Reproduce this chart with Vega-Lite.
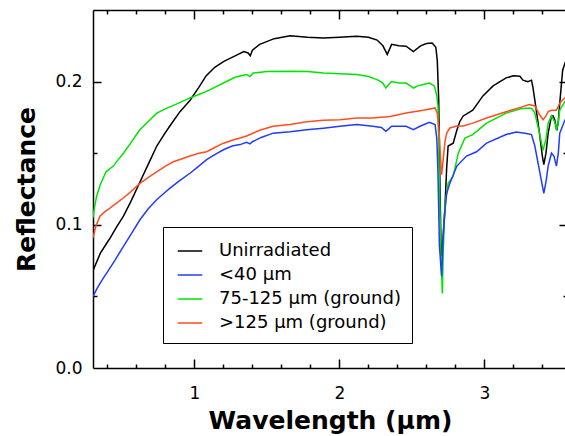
{
  "$schema": "https://vega.github.io/schema/vega-lite/v6.json",
  "width": 474,
  "height": 358,
  "autosize": {"type": "none"},
  "padding": {"left": 93, "top": 10, "right": 0, "bottom": 68},
  "background": "white",
  "config": {
    "view": {"stroke": null},
    "font": "DejaVu Sans",
    "axis": {
      "grid": false,
      "domainColor": "#000000",
      "domainWidth": 1.5,
      "tickColor": "#000000",
      "tickWidth": 1.5,
      "labelColor": "#000000",
      "labelFont": "DejaVu Sans",
      "labelFontSize": 17,
      "titleFont": "DejaVu Sans",
      "titleColor": "#000000",
      "titleFontSize": 25,
      "titleFontWeight": "bold"
    },
    "legend": {
      "labelFont": "DejaVu Sans",
      "labelFontSize": 18,
      "labelColor": "#000000",
      "labelLimit": 400
    }
  },
  "data": {
    "values": [
      {"s": "Unirradiated", "wl": 0.30, "r": 0.068},
      {"s": "Unirradiated", "wl": 0.35, "r": 0.080},
      {"s": "Unirradiated", "wl": 0.40, "r": 0.088},
      {"s": "Unirradiated", "wl": 0.42, "r": 0.091},
      {"s": "Unirradiated", "wl": 0.46, "r": 0.098},
      {"s": "Unirradiated", "wl": 0.51, "r": 0.106},
      {"s": "Unirradiated", "wl": 0.56, "r": 0.116},
      {"s": "Unirradiated", "wl": 0.62, "r": 0.129},
      {"s": "Unirradiated", "wl": 0.68, "r": 0.142},
      {"s": "Unirradiated", "wl": 0.74, "r": 0.155},
      {"s": "Unirradiated", "wl": 0.79, "r": 0.163},
      {"s": "Unirradiated", "wl": 0.83, "r": 0.169},
      {"s": "Unirradiated", "wl": 0.90, "r": 0.179},
      {"s": "Unirradiated", "wl": 0.97, "r": 0.187},
      {"s": "Unirradiated", "wl": 1.03, "r": 0.196},
      {"s": "Unirradiated", "wl": 1.08, "r": 0.204},
      {"s": "Unirradiated", "wl": 1.14, "r": 0.210},
      {"s": "Unirradiated", "wl": 1.20, "r": 0.214},
      {"s": "Unirradiated", "wl": 1.28, "r": 0.218},
      {"s": "Unirradiated", "wl": 1.34, "r": 0.221},
      {"s": "Unirradiated", "wl": 1.37, "r": 0.2200},
      {"s": "Unirradiated", "wl": 1.385, "r": 0.218},
      {"s": "Unirradiated", "wl": 1.40, "r": 0.222},
      {"s": "Unirradiated", "wl": 1.45, "r": 0.226},
      {"s": "Unirradiated", "wl": 1.55, "r": 0.230},
      {"s": "Unirradiated", "wl": 1.66, "r": 0.232},
      {"s": "Unirradiated", "wl": 1.78, "r": 0.231},
      {"s": "Unirradiated", "wl": 1.89, "r": 0.2305},
      {"s": "Unirradiated", "wl": 2.00, "r": 0.231},
      {"s": "Unirradiated", "wl": 2.12, "r": 0.2317},
      {"s": "Unirradiated", "wl": 2.20, "r": 0.231},
      {"s": "Unirradiated", "wl": 2.26, "r": 0.229},
      {"s": "Unirradiated", "wl": 2.30, "r": 0.225},
      {"s": "Unirradiated", "wl": 2.33, "r": 0.219},
      {"s": "Unirradiated", "wl": 2.36, "r": 0.226},
      {"s": "Unirradiated", "wl": 2.41, "r": 0.225},
      {"s": "Unirradiated", "wl": 2.46, "r": 0.2247},
      {"s": "Unirradiated", "wl": 2.51, "r": 0.221},
      {"s": "Unirradiated", "wl": 2.56, "r": 0.225},
      {"s": "Unirradiated", "wl": 2.60, "r": 0.2266},
      {"s": "Unirradiated", "wl": 2.64, "r": 0.227},
      {"s": "Unirradiated", "wl": 2.665, "r": 0.224},
      {"s": "Unirradiated", "wl": 2.675, "r": 0.215},
      {"s": "Unirradiated", "wl": 2.685, "r": 0.187},
      {"s": "Unirradiated", "wl": 2.69, "r": 0.150},
      {"s": "Unirradiated", "wl": 2.695, "r": 0.120},
      {"s": "Unirradiated", "wl": 2.70, "r": 0.090},
      {"s": "Unirradiated", "wl": 2.705, "r": 0.078},
      {"s": "Unirradiated", "wl": 2.712, "r": 0.085},
      {"s": "Unirradiated", "wl": 2.72, "r": 0.100},
      {"s": "Unirradiated", "wl": 2.727, "r": 0.110},
      {"s": "Unirradiated", "wl": 2.74, "r": 0.140},
      {"s": "Unirradiated", "wl": 2.75, "r": 0.155},
      {"s": "Unirradiated", "wl": 2.785, "r": 0.157},
      {"s": "Unirradiated", "wl": 2.81, "r": 0.166},
      {"s": "Unirradiated", "wl": 2.83, "r": 0.172},
      {"s": "Unirradiated", "wl": 2.854, "r": 0.176},
      {"s": "Unirradiated", "wl": 2.92, "r": 0.180},
      {"s": "Unirradiated", "wl": 2.99, "r": 0.190},
      {"s": "Unirradiated", "wl": 3.06, "r": 0.197},
      {"s": "Unirradiated", "wl": 3.15, "r": 0.2026},
      {"s": "Unirradiated", "wl": 3.20, "r": 0.204},
      {"s": "Unirradiated", "wl": 3.245, "r": 0.2037},
      {"s": "Unirradiated", "wl": 3.266, "r": 0.201},
      {"s": "Unirradiated", "wl": 3.30, "r": 0.200},
      {"s": "Unirradiated", "wl": 3.325, "r": 0.201},
      {"s": "Unirradiated", "wl": 3.335, "r": 0.196},
      {"s": "Unirradiated", "wl": 3.348, "r": 0.187},
      {"s": "Unirradiated", "wl": 3.365, "r": 0.175},
      {"s": "Unirradiated", "wl": 3.38, "r": 0.164},
      {"s": "Unirradiated", "wl": 3.40, "r": 0.148},
      {"s": "Unirradiated", "wl": 3.41, "r": 0.142},
      {"s": "Unirradiated", "wl": 3.425, "r": 0.150},
      {"s": "Unirradiated", "wl": 3.44, "r": 0.164},
      {"s": "Unirradiated", "wl": 3.463, "r": 0.176},
      {"s": "Unirradiated", "wl": 3.475, "r": 0.176},
      {"s": "Unirradiated", "wl": 3.486, "r": 0.173},
      {"s": "Unirradiated", "wl": 3.50, "r": 0.166},
      {"s": "Unirradiated", "wl": 3.51, "r": 0.172},
      {"s": "Unirradiated", "wl": 3.52, "r": 0.185},
      {"s": "Unirradiated", "wl": 3.54, "r": 0.208},
      {"s": "Unirradiated", "wl": 3.56, "r": 0.214},
      {"s": "Unirradiated", "wl": 3.57, "r": 0.216},

      {"s": "75-125 μm (ground)", "wl": 0.30, "r": 0.105},
      {"s": "75-125 μm (ground)", "wl": 0.31, "r": 0.112},
      {"s": "75-125 μm (ground)", "wl": 0.325, "r": 0.120},
      {"s": "75-125 μm (ground)", "wl": 0.35, "r": 0.128},
      {"s": "75-125 μm (ground)", "wl": 0.39, "r": 0.137},
      {"s": "75-125 μm (ground)", "wl": 0.44, "r": 0.141},
      {"s": "75-125 μm (ground)", "wl": 0.47, "r": 0.145},
      {"s": "75-125 μm (ground)", "wl": 0.51, "r": 0.150},
      {"s": "75-125 μm (ground)", "wl": 0.56, "r": 0.157},
      {"s": "75-125 μm (ground)", "wl": 0.62, "r": 0.166},
      {"s": "75-125 μm (ground)", "wl": 0.68, "r": 0.172},
      {"s": "75-125 μm (ground)", "wl": 0.74, "r": 0.178},
      {"s": "75-125 μm (ground)", "wl": 0.81, "r": 0.1815},
      {"s": "75-125 μm (ground)", "wl": 0.89, "r": 0.185},
      {"s": "75-125 μm (ground)", "wl": 0.97, "r": 0.1886},
      {"s": "75-125 μm (ground)", "wl": 1.03, "r": 0.191},
      {"s": "75-125 μm (ground)", "wl": 1.08, "r": 0.193},
      {"s": "75-125 μm (ground)", "wl": 1.14, "r": 0.196},
      {"s": "75-125 μm (ground)", "wl": 1.20, "r": 0.199},
      {"s": "75-125 μm (ground)", "wl": 1.28, "r": 0.203},
      {"s": "75-125 μm (ground)", "wl": 1.36, "r": 0.205},
      {"s": "75-125 μm (ground)", "wl": 1.383, "r": 0.2035},
      {"s": "75-125 μm (ground)", "wl": 1.405, "r": 0.206},
      {"s": "75-125 μm (ground)", "wl": 1.50, "r": 0.207},
      {"s": "75-125 μm (ground)", "wl": 1.66, "r": 0.2073},
      {"s": "75-125 μm (ground)", "wl": 1.78, "r": 0.207},
      {"s": "75-125 μm (ground)", "wl": 1.89, "r": 0.206},
      {"s": "75-125 μm (ground)", "wl": 2.00, "r": 0.2055},
      {"s": "75-125 μm (ground)", "wl": 2.12, "r": 0.205},
      {"s": "75-125 μm (ground)", "wl": 2.20, "r": 0.2035},
      {"s": "75-125 μm (ground)", "wl": 2.26, "r": 0.2014},
      {"s": "75-125 μm (ground)", "wl": 2.30, "r": 0.199},
      {"s": "75-125 μm (ground)", "wl": 2.32, "r": 0.1955},
      {"s": "75-125 μm (ground)", "wl": 2.34, "r": 0.198},
      {"s": "75-125 μm (ground)", "wl": 2.36, "r": 0.200},
      {"s": "75-125 μm (ground)", "wl": 2.41, "r": 0.199},
      {"s": "75-125 μm (ground)", "wl": 2.46, "r": 0.199},
      {"s": "75-125 μm (ground)", "wl": 2.49, "r": 0.197},
      {"s": "75-125 μm (ground)", "wl": 2.51, "r": 0.1955},
      {"s": "75-125 μm (ground)", "wl": 2.54, "r": 0.197},
      {"s": "75-125 μm (ground)", "wl": 2.58, "r": 0.198},
      {"s": "75-125 μm (ground)", "wl": 2.62, "r": 0.199},
      {"s": "75-125 μm (ground)", "wl": 2.655, "r": 0.197},
      {"s": "75-125 μm (ground)", "wl": 2.672, "r": 0.190},
      {"s": "75-125 μm (ground)", "wl": 2.68, "r": 0.183},
      {"s": "75-125 μm (ground)", "wl": 2.69, "r": 0.127},
      {"s": "75-125 μm (ground)", "wl": 2.70, "r": 0.080},
      {"s": "75-125 μm (ground)", "wl": 2.71, "r": 0.052},
      {"s": "75-125 μm (ground)", "wl": 2.716, "r": 0.080},
      {"s": "75-125 μm (ground)", "wl": 2.727, "r": 0.113},
      {"s": "75-125 μm (ground)", "wl": 2.75, "r": 0.129},
      {"s": "75-125 μm (ground)", "wl": 2.785, "r": 0.134},
      {"s": "75-125 μm (ground)", "wl": 2.82, "r": 0.150},
      {"s": "75-125 μm (ground)", "wl": 2.866, "r": 0.1606},
      {"s": "75-125 μm (ground)", "wl": 2.92, "r": 0.163},
      {"s": "75-125 μm (ground)", "wl": 3.015, "r": 0.171},
      {"s": "75-125 μm (ground)", "wl": 3.15, "r": 0.178},
      {"s": "75-125 μm (ground)", "wl": 3.25, "r": 0.181},
      {"s": "75-125 μm (ground)", "wl": 3.31, "r": 0.1816},
      {"s": "75-125 μm (ground)", "wl": 3.33, "r": 0.181},
      {"s": "75-125 μm (ground)", "wl": 3.348, "r": 0.178},
      {"s": "75-125 μm (ground)", "wl": 3.38, "r": 0.164},
      {"s": "75-125 μm (ground)", "wl": 3.405, "r": 0.152},
      {"s": "75-125 μm (ground)", "wl": 3.425, "r": 0.160},
      {"s": "75-125 μm (ground)", "wl": 3.44, "r": 0.171},
      {"s": "75-125 μm (ground)", "wl": 3.463, "r": 0.176},
      {"s": "75-125 μm (ground)", "wl": 3.485, "r": 0.172},
      {"s": "75-125 μm (ground)", "wl": 3.497, "r": 0.166},
      {"s": "75-125 μm (ground)", "wl": 3.51, "r": 0.172},
      {"s": "75-125 μm (ground)", "wl": 3.52, "r": 0.180},
      {"s": "75-125 μm (ground)", "wl": 3.555, "r": 0.186},
      {"s": "75-125 μm (ground)", "wl": 3.57, "r": 0.188},

      {"s": ">125 μm (ground)", "wl": 0.30, "r": 0.091},
      {"s": ">125 μm (ground)", "wl": 0.32, "r": 0.099},
      {"s": ">125 μm (ground)", "wl": 0.348, "r": 0.106},
      {"s": ">125 μm (ground)", "wl": 0.38, "r": 0.109},
      {"s": ">125 μm (ground)", "wl": 0.417, "r": 0.1117},
      {"s": ">125 μm (ground)", "wl": 0.46, "r": 0.115},
      {"s": ">125 μm (ground)", "wl": 0.509, "r": 0.1187},
      {"s": ">125 μm (ground)", "wl": 0.56, "r": 0.123},
      {"s": ">125 μm (ground)", "wl": 0.624, "r": 0.129},
      {"s": ">125 μm (ground)", "wl": 0.68, "r": 0.133},
      {"s": ">125 μm (ground)", "wl": 0.739, "r": 0.137},
      {"s": ">125 μm (ground)", "wl": 0.80, "r": 0.141},
      {"s": ">125 μm (ground)", "wl": 0.854, "r": 0.144},
      {"s": ">125 μm (ground)", "wl": 0.91, "r": 0.146},
      {"s": ">125 μm (ground)", "wl": 0.969, "r": 0.148},
      {"s": ">125 μm (ground)", "wl": 1.03, "r": 0.150},
      {"s": ">125 μm (ground)", "wl": 1.084, "r": 0.151},
      {"s": ">125 μm (ground)", "wl": 1.14, "r": 0.154},
      {"s": ">125 μm (ground)", "wl": 1.20, "r": 0.157},
      {"s": ">125 μm (ground)", "wl": 1.26, "r": 0.159},
      {"s": ">125 μm (ground)", "wl": 1.314, "r": 0.1606},
      {"s": ">125 μm (ground)", "wl": 1.36, "r": 0.162},
      {"s": ">125 μm (ground)", "wl": 1.45, "r": 0.166},
      {"s": ">125 μm (ground)", "wl": 1.543, "r": 0.1688},
      {"s": ">125 μm (ground)", "wl": 1.66, "r": 0.170},
      {"s": ">125 μm (ground)", "wl": 1.774, "r": 0.172},
      {"s": ">125 μm (ground)", "wl": 1.89, "r": 0.173},
      {"s": ">125 μm (ground)", "wl": 2.003, "r": 0.1734},
      {"s": ">125 μm (ground)", "wl": 2.12, "r": 0.1746},
      {"s": ">125 μm (ground)", "wl": 2.23, "r": 0.1746},
      {"s": ">125 μm (ground)", "wl": 2.35, "r": 0.1757},
      {"s": ">125 μm (ground)", "wl": 2.46, "r": 0.178},
      {"s": ">125 μm (ground)", "wl": 2.578, "r": 0.180},
      {"s": ">125 μm (ground)", "wl": 2.66, "r": 0.1816},
      {"s": ">125 μm (ground)", "wl": 2.675, "r": 0.178},
      {"s": ">125 μm (ground)", "wl": 2.688, "r": 0.165},
      {"s": ">125 μm (ground)", "wl": 2.698, "r": 0.1455},
      {"s": ">125 μm (ground)", "wl": 2.705, "r": 0.135},
      {"s": ">125 μm (ground)", "wl": 2.716, "r": 0.1455},
      {"s": ">125 μm (ground)", "wl": 2.728, "r": 0.158},
      {"s": ">125 μm (ground)", "wl": 2.74, "r": 0.164},
      {"s": ">125 μm (ground)", "wl": 2.762, "r": 0.1676},
      {"s": ">125 μm (ground)", "wl": 2.81, "r": 0.169},
      {"s": ">125 μm (ground)", "wl": 2.854, "r": 0.169},
      {"s": ">125 μm (ground)", "wl": 2.92, "r": 0.171},
      {"s": ">125 μm (ground)", "wl": 3.015, "r": 0.1746},
      {"s": ">125 μm (ground)", "wl": 3.15, "r": 0.179},
      {"s": ">125 μm (ground)", "wl": 3.25, "r": 0.182},
      {"s": ">125 μm (ground)", "wl": 3.31, "r": 0.184},
      {"s": ">125 μm (ground)", "wl": 3.348, "r": 0.183},
      {"s": ">125 μm (ground)", "wl": 3.365, "r": 0.180},
      {"s": ">125 μm (ground)", "wl": 3.38, "r": 0.177},
      {"s": ">125 μm (ground)", "wl": 3.405, "r": 0.1734},
      {"s": ">125 μm (ground)", "wl": 3.425, "r": 0.176},
      {"s": ">125 μm (ground)", "wl": 3.44, "r": 0.179},
      {"s": ">125 μm (ground)", "wl": 3.463, "r": 0.180},
      {"s": ">125 μm (ground)", "wl": 3.497, "r": 0.180},
      {"s": ">125 μm (ground)", "wl": 3.52, "r": 0.185},
      {"s": ">125 μm (ground)", "wl": 3.555, "r": 0.1886},
      {"s": ">125 μm (ground)", "wl": 3.57, "r": 0.189},

      {"s": "<40 μm", "wl": 0.30, "r": 0.050},
      {"s": "<40 μm", "wl": 0.33, "r": 0.056},
      {"s": "<40 μm", "wl": 0.36, "r": 0.061},
      {"s": "<40 μm", "wl": 0.394, "r": 0.0662},
      {"s": "<40 μm", "wl": 0.45, "r": 0.075},
      {"s": "<40 μm", "wl": 0.509, "r": 0.0848},
      {"s": "<40 μm", "wl": 0.566, "r": 0.094},
      {"s": "<40 μm", "wl": 0.624, "r": 0.1035},
      {"s": "<40 μm", "wl": 0.68, "r": 0.111},
      {"s": "<40 μm", "wl": 0.739, "r": 0.1175},
      {"s": "<40 μm", "wl": 0.79, "r": 0.122},
      {"s": "<40 μm", "wl": 0.831, "r": 0.1256},
      {"s": "<40 μm", "wl": 0.90, "r": 0.131},
      {"s": "<40 μm", "wl": 0.969, "r": 0.136},
      {"s": "<40 μm", "wl": 1.03, "r": 0.141},
      {"s": "<40 μm", "wl": 1.084, "r": 0.1455},
      {"s": "<40 μm", "wl": 1.14, "r": 0.149},
      {"s": "<40 μm", "wl": 1.20, "r": 0.1524},
      {"s": "<40 μm", "wl": 1.26, "r": 0.155},
      {"s": "<40 μm", "wl": 1.314, "r": 0.156},
      {"s": "<40 μm", "wl": 1.36, "r": 0.1576},
      {"s": "<40 μm", "wl": 1.383, "r": 0.1565},
      {"s": "<40 μm", "wl": 1.40, "r": 0.158},
      {"s": "<40 μm", "wl": 1.46, "r": 0.161},
      {"s": "<40 μm", "wl": 1.543, "r": 0.164},
      {"s": "<40 μm", "wl": 1.66, "r": 0.165},
      {"s": "<40 μm", "wl": 1.774, "r": 0.1664},
      {"s": "<40 μm", "wl": 1.89, "r": 0.1675},
      {"s": "<40 μm", "wl": 2.003, "r": 0.1688},
      {"s": "<40 μm", "wl": 2.12, "r": 0.170},
      {"s": "<40 μm", "wl": 2.23, "r": 0.1688},
      {"s": "<40 μm", "wl": 2.29, "r": 0.168},
      {"s": "<40 μm", "wl": 2.32, "r": 0.1653},
      {"s": "<40 μm", "wl": 2.34, "r": 0.167},
      {"s": "<40 μm", "wl": 2.36, "r": 0.1688},
      {"s": "<40 μm", "wl": 2.46, "r": 0.1688},
      {"s": "<40 μm", "wl": 2.51, "r": 0.1665},
      {"s": "<40 μm", "wl": 2.56, "r": 0.169},
      {"s": "<40 μm", "wl": 2.62, "r": 0.1715},
      {"s": "<40 μm", "wl": 2.66, "r": 0.170},
      {"s": "<40 μm", "wl": 2.672, "r": 0.160},
      {"s": "<40 μm", "wl": 2.68, "r": 0.136},
      {"s": "<40 μm", "wl": 2.69, "r": 0.085},
      {"s": "<40 μm", "wl": 2.705, "r": 0.064},
      {"s": "<40 μm", "wl": 2.716, "r": 0.092},
      {"s": "<40 μm", "wl": 2.728, "r": 0.110},
      {"s": "<40 μm", "wl": 2.74, "r": 0.122},
      {"s": "<40 μm", "wl": 2.762, "r": 0.129},
      {"s": "<40 μm", "wl": 2.81, "r": 0.141},
      {"s": "<40 μm", "wl": 2.877, "r": 0.148},
      {"s": "<40 μm", "wl": 2.946, "r": 0.151},
      {"s": "<40 μm", "wl": 3.015, "r": 0.157},
      {"s": "<40 μm", "wl": 3.15, "r": 0.163},
      {"s": "<40 μm", "wl": 3.22, "r": 0.1648},
      {"s": "<40 μm", "wl": 3.28, "r": 0.164},
      {"s": "<40 μm", "wl": 3.325, "r": 0.163},
      {"s": "<40 μm", "wl": 3.348, "r": 0.155},
      {"s": "<40 μm", "wl": 3.38, "r": 0.138},
      {"s": "<40 μm", "wl": 3.41, "r": 0.122},
      {"s": "<40 μm", "wl": 3.425, "r": 0.130},
      {"s": "<40 μm", "wl": 3.44, "r": 0.141},
      {"s": "<40 μm", "wl": 3.463, "r": 0.150},
      {"s": "<40 μm", "wl": 3.48, "r": 0.148},
      {"s": "<40 μm", "wl": 3.497, "r": 0.141},
      {"s": "<40 μm", "wl": 3.51, "r": 0.150},
      {"s": "<40 μm", "wl": 3.52, "r": 0.164},
      {"s": "<40 μm", "wl": 3.555, "r": 0.173},
      {"s": "<40 μm", "wl": 3.57, "r": 0.175}
    ]
  },
  "layer": [
    {
      "mark": {"type": "line", "strokeWidth": 1.5, "clip": true},
      "encoding": {
        "x": {
          "field": "wl", "type": "quantitative",
          "scale": {"domain": [0.3, 3.57], "nice": false, "zero": false},
          "axis": {
            "orient": "bottom",
            "values": [1, 2, 3],
            "format": "d",
            "ticks": false,
            "tickSize": 0,
            "labelPadding": 17,
            "title": "Wavelength (μm)",
            "titlePadding": 7
          }
        },
        "y": {
          "field": "r", "type": "quantitative",
          "scale": {"domain": [0, 0.25], "nice": false, "zero": true},
          "axis": {
            "orient": "left",
            "values": [0, 0.1, 0.2],
            "format": ".1f",
            "ticks": false,
            "tickSize": 0,
            "labelPadding": 11,
            "title": "Reflectance",
            "titlePadding": 15
          }
        },
        "color": {
          "field": "s", "type": "nominal",
          "scale": {
            "domain": ["Unirradiated", "<40 μm", "75-125 μm (ground)", ">125 μm (ground)"],
            "range": ["#000000", "#1f3cff", "#00e400", "#ff4d1f"]
          },
          "legend": {
            "title": null,
            "orient": "none",
            "legendX": 70,
            "legendY": 217,
            "symbolType": "stroke",
            "symbolSize": 600,
            "symbolStrokeWidth": 1.5,
            "symbolOffset": 3,
            "labelOffset": 16,
            "rowPadding": 2,
            "padding": 11,
            "strokeColor": "#000000",
            "fillColor": "#ffffff"
          }
        }
      }
    },
    {
      "mark": {"type": "line", "opacity": 0},
      "encoding": {
        "x": {
          "field": "wl", "type": "quantitative",
          "axis": {"orient": "top", "values": [1, 2, 3], "labels": false, "ticks": false, "title": null}
        },
        "y": {
          "field": "r", "type": "quantitative",
          "axis": {"orient": "right", "values": [0.1, 0.2], "labels": false, "ticks": false, "title": null}
        },
        "detail": {"field": "s"}
      }
    },
    {
      "mark": {"type": "line", "opacity": 0},
      "encoding": {
        "x": {
          "field": "wl", "type": "quantitative",
          "axis": {"orient": "bottom", "values": [1, 2, 3], "labels": false, "domain": false, "tickSize": 9, "offset": -9, "title": null}
        },
        "y": {
          "field": "r", "type": "quantitative",
          "axis": {"orient": "left", "values": [0.1, 0.2], "labels": false, "domain": false, "tickSize": 8, "offset": -8, "title": null}
        },
        "detail": {"field": "s"}
      }
    },
    {
      "mark": {"type": "line", "opacity": 0},
      "encoding": {
        "x": {
          "field": "wl", "type": "quantitative",
          "axis": {"orient": "top", "values": [1, 2, 3], "labels": false, "domain": false, "tickSize": 9, "offset": -9, "title": null}
        },
        "y": {
          "field": "r", "type": "quantitative",
          "axis": {"orient": "right", "values": [0.1, 0.2], "labels": false, "domain": false, "tickSize": 8, "offset": -8, "title": null}
        },
        "detail": {"field": "s"}
      }
    },
    {
      "mark": {"type": "line", "opacity": 0},
      "encoding": {
        "x": {
          "field": "wl", "type": "quantitative",
          "axis": {"orient": "bottom", "values": [0.4, 0.6, 0.8, 1.2, 1.4, 1.6, 1.8, 2.2, 2.4, 2.6, 2.8, 3.2, 3.4], "labels": false, "domain": false, "tickSize": 4, "offset": -4, "title": null}
        },
        "y": {
          "field": "r", "type": "quantitative",
          "axis": {"orient": "left", "values": [0.05, 0.15], "labels": false, "domain": false, "tickSize": 4, "offset": -4, "title": null}
        },
        "detail": {"field": "s"}
      }
    },
    {
      "mark": {"type": "line", "opacity": 0},
      "encoding": {
        "x": {
          "field": "wl", "type": "quantitative",
          "axis": {"orient": "top", "values": [0.4, 0.6, 0.8, 1.2, 1.4, 1.6, 1.8, 2.2, 2.4, 2.6, 2.8, 3.2, 3.4], "labels": false, "domain": false, "tickSize": 4, "offset": -4, "title": null}
        },
        "y": {
          "field": "r", "type": "quantitative",
          "axis": {"orient": "right", "values": [0.05, 0.15], "labels": false, "domain": false, "tickSize": 4, "offset": -4, "title": null}
        },
        "detail": {"field": "s"}
      }
    }
  ],
  "resolve": {"axis": {"x": "independent", "y": "independent"}}
}
